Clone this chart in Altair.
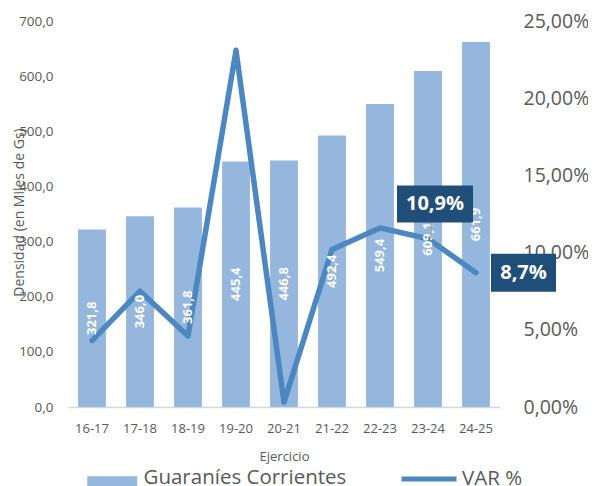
import altair as alt
import pandas as pd

categories = ["16-17", "17-18", "18-19", "19-20", "20-21", "21-22", "22-23", "23-24", "24-25"]
guaranies = [321.8, 346.0, 361.8, 445.4, 446.8, 492.4, 549.4, 609.1, 661.9]
var_pct = [0.043, 0.075, 0.046, 0.231, 0.003, 0.102, 0.116, 0.109, 0.087]
bar_labels = ["321,8", "346,0", "361,8", "445,4", "446,8", "492,4", "549,4", "609,1", "661,9"]
callouts = ["", "", "", "", "", "", "", "10,9%", "8,7%"]
series_names = ["Guaraníes Corrientes", "VAR %"]

BAR = "#95B7DE"
LINE = "#4D87C0"
BOX = "#1F4E79"
GREY = "#595959"
FONT = "Open Sans"

df = pd.DataFrame({
    "cat": categories,
    "guaranies": guaranies,
    "var": var_pct,
    "label": bar_labels,
    "callout": callouts,
})
df["mid"] = df["guaranies"] / 2
df["serie_bar"] = series_names[0]
df["serie_line"] = series_names[1]

x_enc = alt.X(
    "cat:N",
    sort=categories,
    scale=alt.Scale(paddingInner=0.42, paddingOuter=0.21),
    axis=alt.Axis(
        title="Ejercicio", labelAngle=0, ticks=False, tickSize=0,
        domainColor="#D9D9D9", domainWidth=1.5,
        labelFontSize=13, labelColor=GREY, labelPadding=15, labelFont=FONT,
        titleFontSize=13, titleColor=GREY, titleFontWeight="normal",
        titlePadding=15, titleFont=FONT,
    ),
)

left_scale = alt.Scale(domain=[0, 700])
right_scale = alt.Scale(domain=[0, 0.25])

base = alt.Chart(df)

bars = base.mark_bar().encode(
    x=x_enc,
    y=alt.Y(
        "guaranies:Q",
        scale=left_scale,
        axis=alt.Axis(
            values=[0, 100, 200, 300, 400, 500, 600, 700],
            labelExpr="replace(format(datum.value, '.1f'), '.', ',')",
            title="Densidad (en Miles de Gs)",
            grid=False, domain=False, ticks=False,
            labelFontSize=13.5, labelColor=GREY, labelPadding=15, labelFont=FONT,
            titleFontSize=14, titleColor=GREY, titleFontWeight="normal", titleFont=FONT,
            titleX=-49, titleY=191, titleAlign="center", titleBaseline="middle",
        ),
    ),
    color=alt.Color(
        "serie_bar:N",
        scale=alt.Scale(domain=[series_names[0]], range=[BAR]),
        legend=alt.Legend(
            title=None, orient="none", legendX=34, legendY=447, padding=0,
            symbolType="M-2.5,-0.2L2.5,-0.2L2.5,1.6L-2.5,1.6Z", symbolSize=400,
            symbolStrokeWidth=0, labelFontSize=20.5, labelColor=GREY, labelFont=FONT,
            labelOffset=21, labelLimit=400,
        ),
    ),
)

line = base.mark_line(strokeWidth=5.5, strokeCap="round", strokeJoin="round").encode(
    x=x_enc,
    y=alt.Y(
        "var:Q",
        scale=right_scale,
        axis=alt.Axis(
            orient="right",
            values=[0, 0.05, 0.10, 0.15, 0.20, 0.25],
            labelExpr="replace(format(datum.value * 100, '.2f'), '.', ',') + '%'",
            title=None, grid=False, domain=False, ticks=False,
            labelFontSize=19.5, labelColor=GREY, labelPadding=23, labelFont=FONT,
        ),
    ),
    stroke=alt.Stroke(
        "serie_line:N",
        scale=alt.Scale(domain=[series_names[1]], range=[LINE]),
        legend=alt.Legend(
            title=None, orient="none", legendX=331, legendY=428, padding=0,
            symbolType="stroke", symbolSize=3025, symbolStrokeWidth=5,
            labelFontSize=20.5, labelColor=GREY, labelFont=FONT, labelOffset=3,
            labelLimit=200,
        ),
    ),
)

bar_text = base.mark_text(
    angle=270, color="white", fontWeight="bold", fontSize=13, font=FONT,
    align="center", baseline="middle",
).encode(
    x=x_enc,
    y=alt.Y("mid:Q", scale=left_scale, axis=None),
    text="label:N",
)

leader = base.mark_rule(color="#A6A6A6", strokeWidth=1.5, xOffset=3, y2Offset=-16).transform_filter(
    "datum.cat == '23-24'"
).encode(
    x=x_enc,
    y=alt.Y("var:Q", scale=right_scale, axis=None),
    y2="var:Q",
)

box1 = base.mark_point(
    shape="M-0.76,-0.37L0.76,-0.37L0.76,0.37L-0.76,0.37Z", size=10000,
    filled=True, opacity=1, color=BOX, xOffset=7, yOffset=-34.6,
).transform_filter("datum.cat == '23-24'").encode(
    x=x_enc,
    y=alt.Y("var:Q", scale=right_scale, axis=None),
)

box2 = base.mark_point(
    shape="M-0.65,-0.38L0.65,-0.38L0.65,0.38L-0.65,0.38Z", size=10000,
    filled=True, opacity=1, color=BOX, xOffset=47.5, yOffset=0,
).transform_filter("datum.cat == '24-25'").encode(
    x=x_enc,
    y=alt.Y("var:Q", scale=right_scale, axis=None),
)

text1 = base.mark_text(
    color="white", fontWeight="bold", fontSize=20, font=FONT,
    align="center", baseline="middle", dx=7, dy=-34.6,
).transform_filter("datum.cat == '23-24'").encode(
    x=x_enc,
    y=alt.Y("var:Q", scale=right_scale, axis=None),
    text="callout:N",
)

text2 = base.mark_text(
    color="white", fontWeight="bold", fontSize=20, font=FONT,
    align="center", baseline="middle", dx=47.5, dy=0,
).transform_filter("datum.cat == '24-25'").encode(
    x=x_enc,
    y=alt.Y("var:Q", scale=right_scale, axis=None),
    text="callout:N",
)

chart = alt.layer(
    bars, line, bar_text, leader, box1, box2, text1, text2
).resolve_scale(
    y="independent"
).resolve_legend(
    color="independent", stroke="independent"
).properties(
    width=432, height=386,
    autosize=alt.AutoSizeParams(type="none"),
    padding={"left": 60, "top": 13, "right": 88, "bottom": 100},
).configure(
    font=FONT,
).configure_view(
    stroke=None,
)

chart.save("out.html", embed_options={"renderer": "svg", "actions": False})
